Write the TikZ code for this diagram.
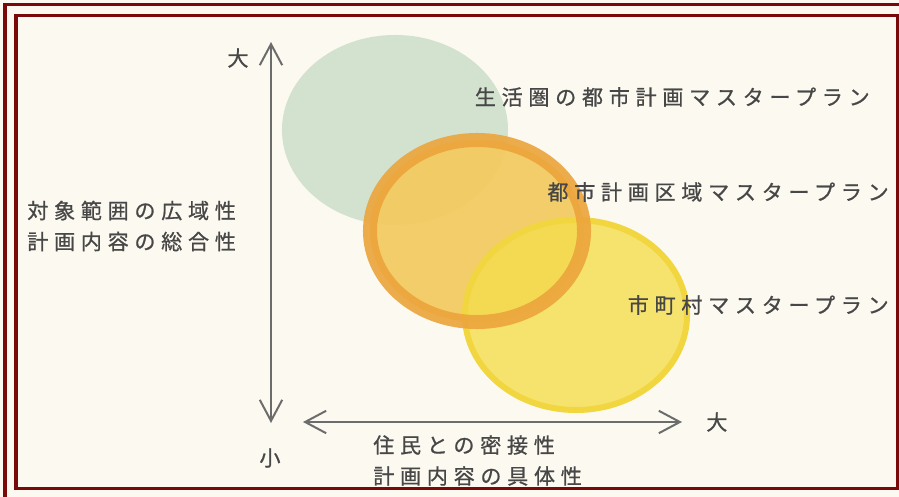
\documentclass[tikz,border=0pt]{standalone}
\usepackage{fontspec}
\setmainfont[FakeBold=0.8]{Noto Sans CJK JP}
\newfontfamily\spacedjp[LetterSpace=27, FakeBold=0.8]{Noto Sans CJK JP}
\usepackage{tikz}
\usetikzlibrary{shapes.geometric}
\usetikzlibrary{positioning}
\usetikzlibrary{arrows.meta}
\definecolor{framered}{HTML}{7A0A0A}
\definecolor{paper}{HTML}{FCFAF0}
\definecolor{sage}{HTML}{D3E2CE}
\definecolor{ringorange}{HTML}{ECA43B}
\definecolor{fillorange}{HTML}{F3CA5E}
\definecolor{fillyellow}{HTML}{F5DE4E}
\definecolor{ringyellow}{HTML}{F1D640}
\definecolor{inkgray}{HTML}{474747}
\tikzstyle{frame} = [draw=framered, line width=0.075cm]
\tikzstyle{plan} = [ellipse, inner sep=0pt, outer sep=0pt]
\tikzstyle{planlabel} = [inner sep=0pt, text=inkgray, font=\spacedjp\fontsize{15pt}{22pt}\selectfont]
\tikzstyle{axislabel} = [inner sep=0pt, text=inkgray, font=\fontsize{15pt}{22pt}\selectfont]
\tikzstyle{axis} = [draw=inkgray!80, line width=0.05cm, {Straight Barb[length=15pt,width=16pt]}-{Straight Barb[length=15pt,width=16pt]}]

\begin{document}
\begin{tikzpicture}[x=0.025cm, y=-0.025cm]
        \useasboundingbox (0,0) rectangle (899,497);
        \fill[paper] (0,0) rectangle (899,497);
        \draw[frame] (5,497) -- (5,5) -- (899,5);
        \draw[frame] (16,16) rectangle (897,488);

        % the three plans
        \node (region) [plan, minimum width=5.65cm, minimum height=4.75cm, fill=sage] at (395,130) {};
        \node (city) [plan, minimum width=5.35cm, minimum height=4.55cm, fill=fillorange, fill opacity=0.92] at (477,231) {};
        \node (town) [plan, minimum width=5.55cm, minimum height=4.75cm, fill=fillyellow, fill opacity=0.8, draw=ringyellow, line width=0.15cm] at (576,315) {};
        \node (cityRing) [plan, minimum width=5.35cm, minimum height=4.55cm, draw=ringorange, line width=0.35cm, draw opacity=0.9] at (477,231) {};

        \node (regionLabel) [planlabel, anchor=east] at (870,97) {生活圏の都市計画マスタープラン};
        \node (cityLabel) [planlabel, anchor=east] at (889,192) {都市計画区域マスタープラン};
        \node (townLabel) [planlabel, anchor=east] at (889,305) {市町村マスタープラン};

        % axes
        \coordinate (vtop) at (271,42);
        \coordinate (vbot) at (271,423);
        \coordinate (hleft) at (303,422);
        \coordinate (hright) at (682,422);
        \draw [axis] (vbot) -- (vtop);
        \draw [axis] (hleft) -- (hright);

        \node (vBig) [axislabel] at (238,58) {大};
        \node (vSmall) [axislabel] at (270,458) {小};
        \node (hBig) [axislabel, right=0.6cm of hright] {大};
        \node (vTitle) [planlabel, align=left, anchor=west] at (27,226) {対象範囲の広域性\\計画内容の総合性};
        \node (hTitle) [planlabel, align=left, anchor=north west] at (373,435) {住民との密接性\\計画内容の具体性};
    \end{tikzpicture}
\end{document}
